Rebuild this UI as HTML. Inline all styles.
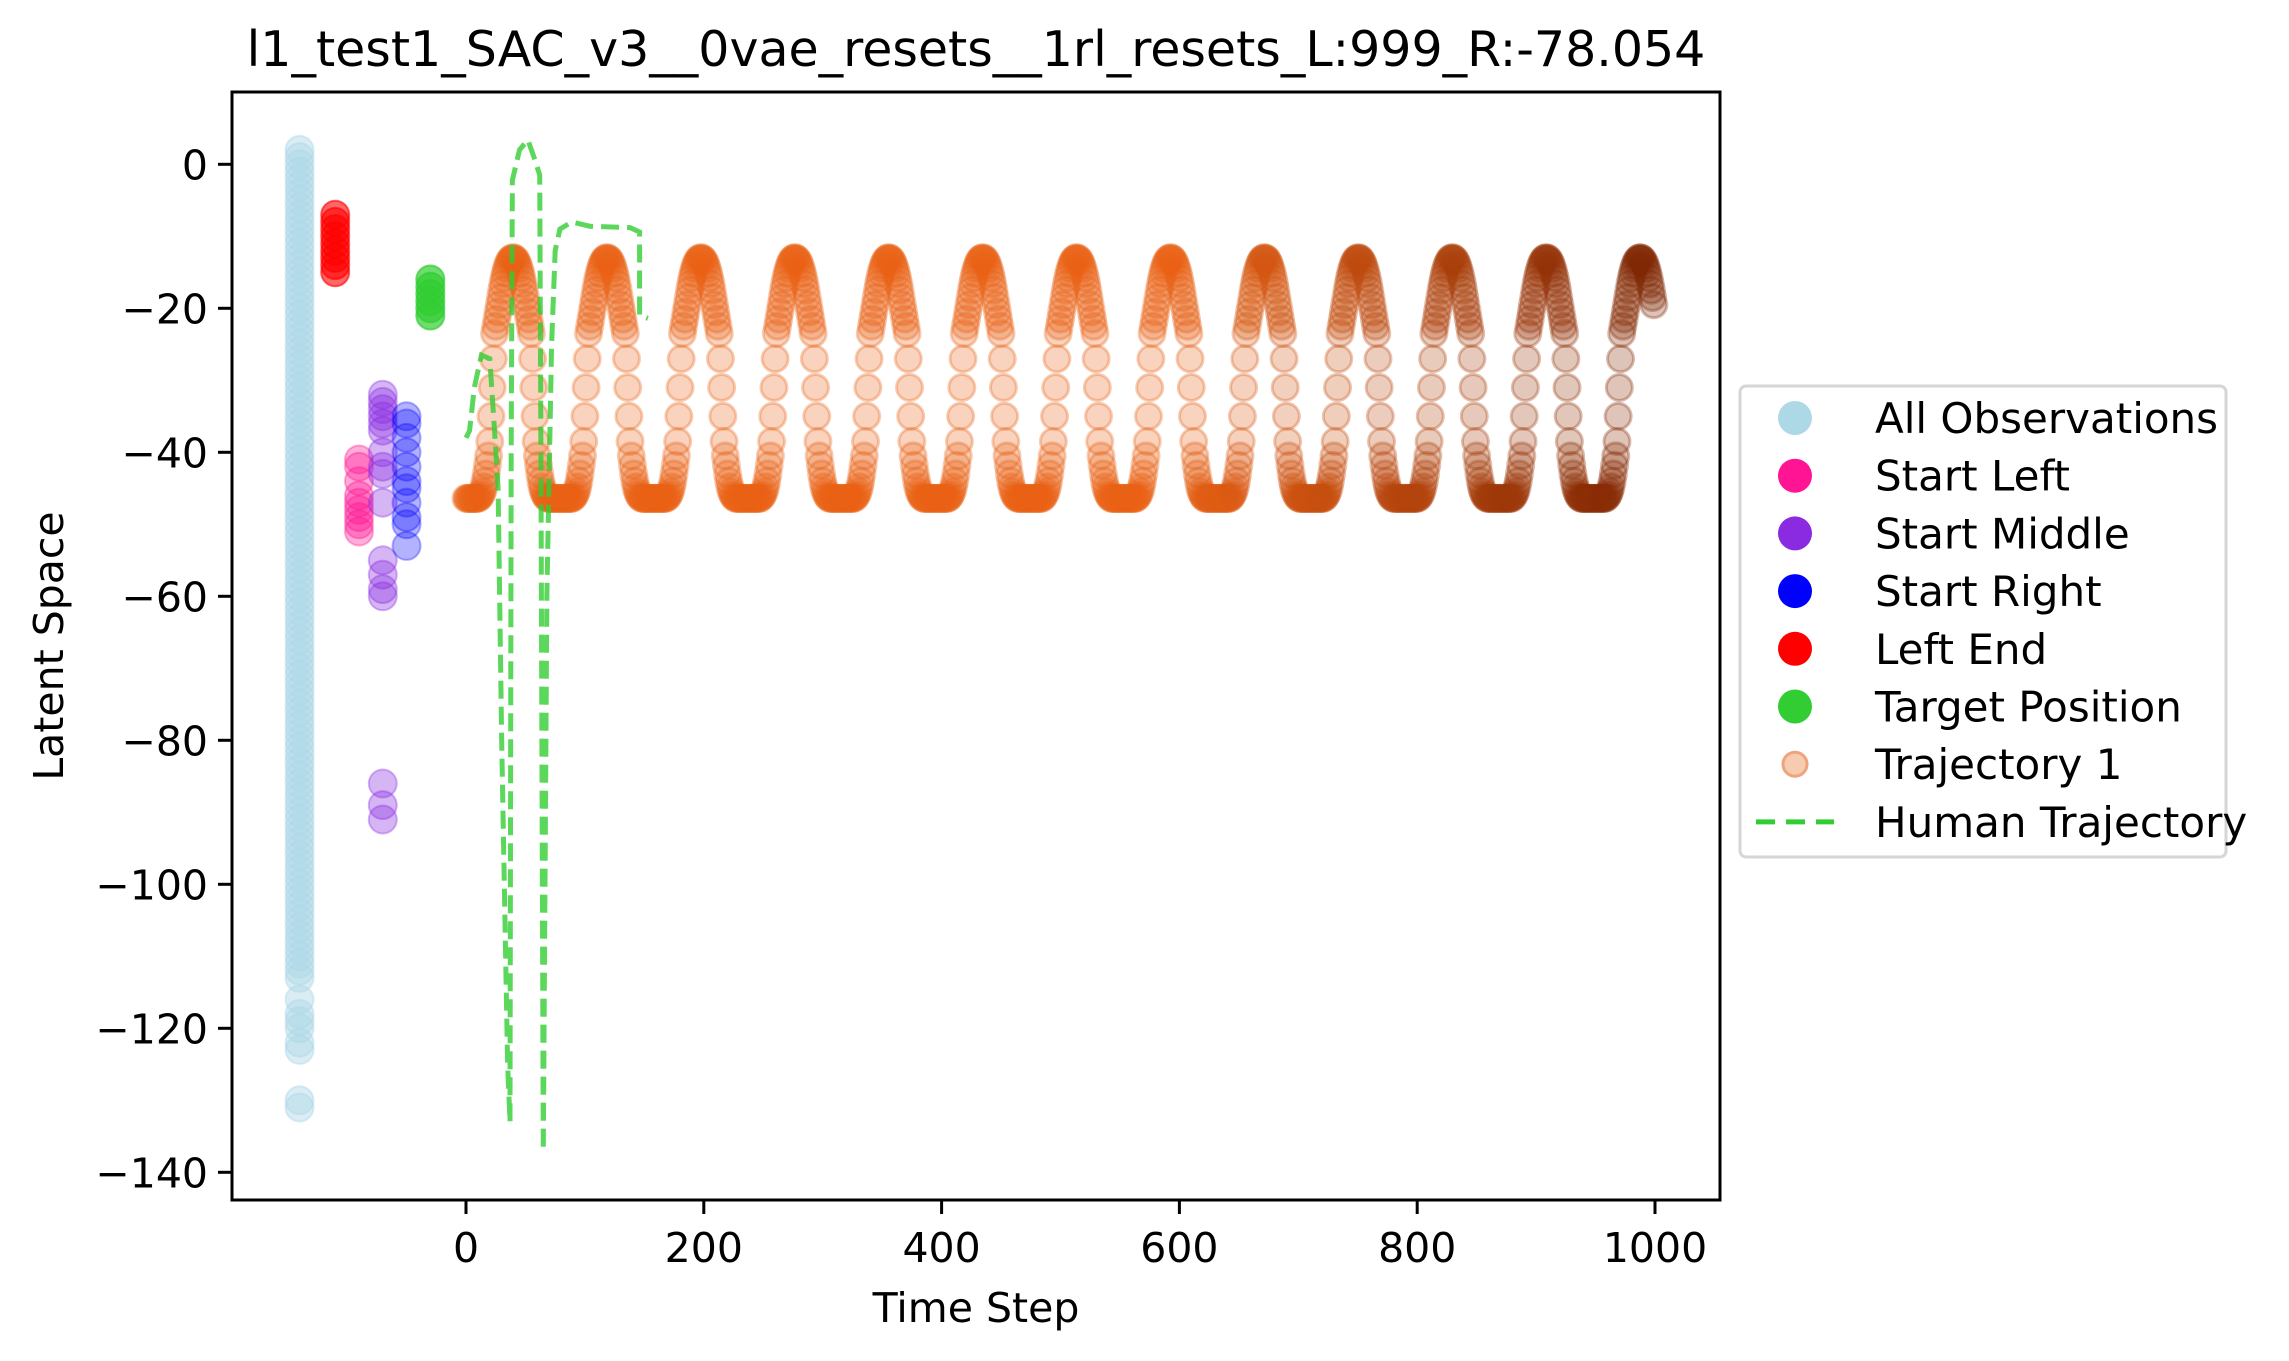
<!DOCTYPE html>
<html><head><meta charset="utf-8">
<style>
html,body{margin:0;padding:0;background:#fff;}
svg{display:block;font-family:"DejaVu Sans","Liberation Sans",sans-serif;}
</style></head>
<body>
<svg id="chart" width="2289" height="1361" viewBox="0 0 2289 1361" xmlns="http://www.w3.org/2000/svg">
  <rect x="0" y="0" width="2289" height="1361" fill="#fff"/>
  <text x="976" y="66" font-size="49" text-anchor="middle" fill="#000">l1_test1_SAC_v3__0vae_resets__1rl_resets_L:999_R:-78.054</text>
  <g id="plot"></g>
  <g id="axes"></g>
  <text x="976" y="1322" font-size="41" text-anchor="middle">Time Step</text>
  <text x="63" y="646" font-size="41" text-anchor="middle" transform="rotate(-90 63 646)">Latent Space</text>
  <g id="legend"></g>
</svg>
<script>
const xTicks = [0, 200, 400, 600, 800, 1000];
const yTicks = [0, -20, -40, -60, -80, -100, -120, -140];
const allObsX = -140;
const allObsY = [2,1,0,-1,-2,-3,-4,-5,-6,-7,-8,-9,-10,-11,-12,-13,-14,-15,-16,-17,-18,-19,-20,-21,-22,-23,-24,-25,-26,-27,-28,-29,-30,-31,-32,-33,-34,-35,-36,-37,-38,-39,-40,-41,-42,-43,-44,-45,-46,-47,-48,-49,-50,-51,-52,-53,-54,-55,-56,-57,-58,-59,-60,-61,-62,-63,-64,-65,-66,-67,-68,-69,-70,-71,-72,-73,-74,-75,-76,-77,-78,-79,-80,-81,-82,-83,-84,-85,-86,-87,-88,-89,-90,-91,-92,-93,-94,-95,-96,-97,-98,-99,-100,-101,-102,-103,-104,-105,-106,-107,-108,-109,-110,-111,-112,-113,-116,-118,-119,-120,-122,-123,-130,-131];
const leftEndX = -110;
const leftEndY = [-7,-8,-9,-10,-11,-12,-13,-14,-15];
const startLeftX = -90;
const startLeftY = [-41,-42,-44,-46,-47,-48,-49,-50,-51];
const startMiddleX = -70;
const startMiddleY = [-32,-33,-34,-35,-36,-37,-40,-42,-43,-47,-55,-57,-59,-60,-86,-89,-91];
const startRightX = -50;
const startRightY = [-35,-36,-38,-40,-42,-44,-45,-47,-49,-50,-53];
const targetX = -30;
const targetY = [-16,-17,-18,-19,-20,-21];
const trajCycle = [-13,-13.1,-13.3,-13.6,-14,-14.5,-15.1,-15.8,-16.6,-17.5,-18.5,-19.5,-20.5,-21.5,-22.5,-23.5,-27,-31,-35,-38.5,-40.5,-41.8,-43,-44,-44.8,-45.4,-45.8,-46.1,-46.3,-46.4,-46.4,-46.4,-46.4,-46.4,-46.4,-46.4,-46.4,-46.4,-46.4,-46.4,
  -46.4,-46.4,-46.4,-46.4,-46.4,-46.4,-46.4,-46.4,-46.4,-46.4,-46.3,-46.1,-45.8,-45.4,-44.8,-44,-43,-41.8,-40.5,-38.5,-35,-31,-27,-23.5,-22.5,-21.5,-20.5,-19.5,-18.5,-17.5,-16.6,-15.8,-15.1,-14.5,-14,-13.6,-13.3,-13.1,-13];
const trajFirstPeak = 40;
const trajLength = 1000;
const humanX = [0,3,7,13,20,24,27,30,35,37,38,39,45,52,58,62,63,65,68,72,75,79,89,104,138,146,146,153];
const humanY = [-38,-37,-31,-26.5,-27,-37,-45,-80,-125,-133,-40,-2.2,2,3.4,0.6,-1.5,-40,-137,-60,-25,-12,-9,-8,-8.6,-8.8,-9.4,-21,-21.4];

const L=232, R=1720, T=92, B=1200;
const sx = v => 466 + v*1.189;
const sy = v => 164.3 - v*7.2;
const NS='http://www.w3.org/2000/svg';
const plot=document.getElementById('plot'), axes=document.getElementById('axes'), legend=document.getElementById('legend');
function mk(tag, attrs, parent){const e=document.createElementNS(NS,tag);for(const k in attrs)e.setAttribute(k,attrs[k]);parent.appendChild(e);return e;}

function scatter(xv, ys, color, alpha, name){
  ys.forEach(y=>{
    const c=mk('circle',{cx:sx(xv),cy:sy(y),r:14,fill:color,'fill-opacity':alpha,stroke:color,'stroke-opacity':alpha,'stroke-width':2},plot);
    
    
  });
}
scatter(allObsX, allObsY, '#add8e6', 0.45, 'all-observations-point');
scatter(leftEndX, leftEndY, '#ff0000', 0.6, 'left-end-point');
scatter(startLeftX, startLeftY, '#ff1493', 0.35, 'start-left-point');
scatter(startMiddleX, startMiddleY, '#8a2be2', 0.35, 'start-middle-point');
scatter(startRightX, startRightY, '#0000ff', 0.3, 'start-right-point');
scatter(targetX, targetY, '#32cd32', 0.7, 'target-position-point');

const n=trajCycle.length;
const c0=[232,98,22], c1=[127,39,4];
for(let i=0;i<trajLength;i++){
  const idx=((i - trajFirstPeak) % n + n) % n;
  const y=trajCycle[idx];
  let t=Math.max(0,(i-600)/399);
  const col='rgb('+c0.map((a,k)=>Math.round(a+(c1[k]-a)*t)).join(',')+')';
  const c=mk('circle',{cx:sx(i),cy:sy(y),r:13,fill:col,'fill-opacity':0.28,stroke:col,'stroke-opacity':0.32,'stroke-width':3},plot);
  
  
}

const pts=humanX.map((x,i)=>sx(x)+','+sy(humanY[i])).join(' ');
const hl=mk('polyline',{points:pts,fill:'none',stroke:'#32cd32','stroke-opacity':0.8,'stroke-width':5,'stroke-dasharray':'18 8'},plot);



const fr=mk('rect',{x:L,y:T,width:R-L,height:B-T,fill:'none',stroke:'#000','stroke-width':3},axes);


xTicks.forEach(v=>{
  const x=sx(v);
  const tk=mk('line',{x1:x,x2:x,y1:B,y2:B+14,stroke:'#000','stroke-width':3},axes);
  
  
  const tx=mk('text',{x:x,y:B+62,'font-size':41,'text-anchor':'middle'},axes);
  tx.textContent=String(v);
  
  
});
yTicks.forEach(v=>{
  const y=sy(v);
  const tk=mk('line',{x1:L-14,x2:L,y1:y,y2:y,stroke:'#000','stroke-width':3},axes);
  
  
  const tx=mk('text',{x:L-24,y:y+15,'font-size':41,'text-anchor':'end'},axes);
  tx.textContent=v<0?'\u2212'+Math.abs(v):String(v);
  
  
});

const lb=mk('rect',{x:1740,y:386,width:486,height:471,rx:6,fill:'#fff',stroke:'#d6d6d6','stroke-width':3},legend);


const entries=[['All Observations','#add8e6'],['Start Left','#ff1493'],['Start Middle','#8a2be2'],['Start Right','#0000ff'],['Left End','#ff0000'],['Target Position','#32cd32'],['Trajectory 1','traj'],['Human Trajectory','line']];
entries.forEach((e,i)=>{
  const y=418+i*57.7;
  const g=mk('g',{},legend);
  
  
  if(e[1]==='line'){
    mk('line',{x1:1756,x2:1834,y1:y,y2:y,stroke:'#32cd32','stroke-width':5,'stroke-dasharray':'19 11'},g);
  } else if(e[1]==='traj'){
    mk('circle',{cx:1795,cy:y,r:12,fill:'#f6cbb0',stroke:'#eea57c','stroke-width':3},g);
  } else {
    mk('circle',{cx:1795,cy:y,r:17,fill:e[1]},g);
  }
  const t=mk('text',{x:1875,y:y+15,'font-size':42},g);
  t.textContent=e[0];
});
</script>
</body></html>
